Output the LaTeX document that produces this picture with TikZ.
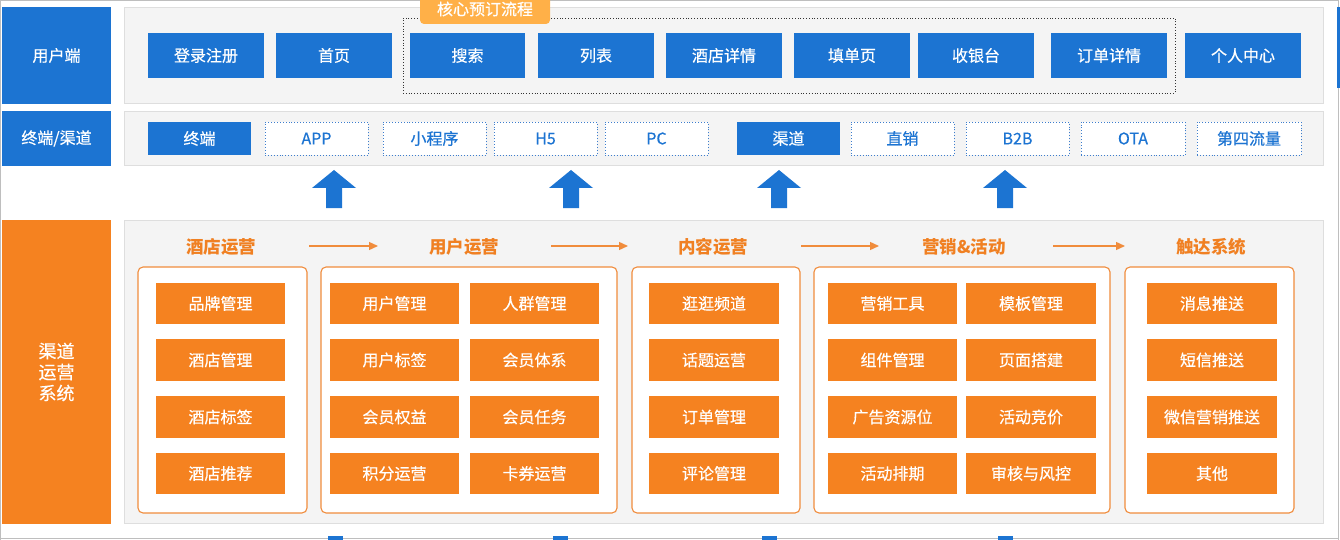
\documentclass[tikz,border=0pt]{standalone}
\usepackage{fontspec}
\setmainfont{Noto Sans CJK SC}
\newfontfamily\medfont{Noto Sans CJK SC}[FakeBold=0.5]
\usetikzlibrary{arrows.meta}
\definecolor{bl}{RGB}{28,116,210}
\definecolor{orn}{RGB}{245,130,32}
\definecolor{ornline}{RGB}{240,140,60}
\definecolor{ornhead}{RGB}{240,128,34}
\definecolor{tagc}{RGB}{255,176,72}
\definecolor{panelc}{RGB}{244,244,244}
\definecolor{panelb}{RGB}{222,222,222}
\definecolor{framec}{RGB}{190,190,190}
\definecolor{dotb}{RGB}{60,125,205}
\newcommand\rbox[7]{\node[#1, minimum width={(#5-#3)*1pt}, minimum height={(#6-#4)*1pt}] (#2) at ({(#3+#5)/2},{(#4+#6)/2}) {#7};}
\tikzset{
  base/.style={rectangle, inner sep=0pt, outer sep=0pt, font=\medfont\fontsize{16}{20}\selectfont},
  bluebtn/.style={base, fill=bl, text=white},
  label/.style={base, fill=bl, text=white, align=center},
  panel/.style={base, fill=panelc, draw=panelb, line width=0.8pt},
  dotbox/.style={base, fill=white, draw=dotb, dotted, line width=0.9pt, text=bl},
  coreframe/.style={base, draw=black!80, dotted, line width=0.8pt},
  item/.style={base, fill=orn, text=white},
  group/.style={base, fill=white, draw=ornline, line width=1.1pt, rounded corners=5pt},
  head/.style={inner sep=0pt, font=\fontsize{17.5}{20}\selectfont\bfseries, text=ornhead},
  flow/.style={draw=ornline, line width=1.3pt, -{Triangle[length=9pt,width=8pt]}},
}
\begin{document}
\begin{tikzpicture}[x=1pt,y=-1pt]
\useasboundingbox (0,0) rectangle (1340,540);
\fill[white] (0,0) rectangle (1340,540);
% frame
\draw[framec, line width=0.8pt] (0.5,540) -- (0.5,0.5) -- (1338,0.5) -- (1338,540);
\draw[framec, line width=0.8pt] (0,538.5) -- (1338,538.5);
\fill[bl] (1337,7) rectangle (1340,88);

% ===== row 1 =====
\rbox{label}{lUser}{2}{7}{111}{104}{用户端}
\rbox{panel}{pUser}{124}{7}{1323}{103}{}
\rbox{coreframe}{core}{403}{18}{1175}{93}{}
\rbox{bluebtn}{login}{148}{33}{264}{78}{登录注册}
\rbox{bluebtn}{home}{276}{33}{392}{78}{首页}
\rbox{bluebtn}{search}{410}{33}{525}{78}{搜索}
\rbox{bluebtn}{list}{538}{33}{654}{78}{列表}
\rbox{bluebtn}{hotel}{666}{33}{782}{78}{酒店详情}
\rbox{bluebtn}{fill}{794}{33}{910}{78}{填单页}
\rbox{bluebtn}{pay}{918}{33}{1034}{78}{收银台}
\rbox{bluebtn}{order}{1051}{33}{1167}{78}{订单详情}
\rbox{bluebtn}{me}{1185}{33}{1301}{78}{个人中心}
\node[base, fill=tagc, text=white, rounded corners=4pt, minimum width=130pt, minimum height=30pt] (tag) at (485,9) {核心预订流程};

% ===== row 2 =====
\rbox{label}{lTerm}{2}{111}{111}{166}{终端/渠道}
\rbox{panel}{pTerm}{124}{111}{1323}{165}{}
\rbox{bluebtn}{term}{148}{122}{251}{155}{终端}
\rbox{dotbox}{app}{265}{122}{368}{155}{APP}
\rbox{dotbox}{mini}{383}{122}{486}{155}{小程序}
\rbox{dotbox}{hfive}{494}{122}{597}{155}{H5}
\rbox{dotbox}{pc}{605}{122}{708}{155}{PC}
\rbox{bluebtn}{chan}{737}{122}{840}{155}{渠道}
\rbox{dotbox}{direct}{851}{122}{954}{155}{直销}
\rbox{dotbox}{btob}{966}{122}{1069}{155}{B2B}
\rbox{dotbox}{ota}{1081}{122}{1185}{155}{OTA}
\rbox{dotbox}{fourth}{1197}{122}{1301}{155}{第四流量}

% up arrows
\foreach \cx in {334,571,779,1005}{
  \fill[bl] (\cx-22,188) -- (\cx,170) -- (\cx+22,188) -- (\cx+8,188) -- (\cx+8,208) -- (\cx-8,208) -- (\cx-8,188) -- cycle;
}
% cut-off arrows at bottom
\foreach \cx in {335.5,560.5,769.5,1005.5}{
  \fill[bl] (\cx-7.5,536) rectangle (\cx+7.5,540);
}

% ===== row 3 =====
\rbox{base, fill=orn, text=white, align=center, font=\medfont\fontsize{18}{21}\selectfont}{lOps}{2}{220}{111}{524}{渠道\\运营\\系统}
\rbox{panel}{pOps}{124}{220}{1323}{523}{}

\node[head] (h1) at (221,247) {酒店运营};
\node[head] (h2) at (464,247) {用户运营};
\node[head] (h3) at (713,247) {内容运营};
\node[head] (h4) at (964,247) {营销\&活动};
\node[head] (h5) at (1211,247) {触达系统};
\coordinate (a1s) at (309,246); \coordinate (a1e) at (378,246);
\coordinate (a2s) at (551,246); \coordinate (a2e) at (628,246);
\coordinate (a3s) at (801,246); \coordinate (a3e) at (879,246);
\coordinate (a4s) at (1053,246); \coordinate (a4e) at (1125,246);
\draw[flow] (a1s) -- (a1e);
\draw[flow] (a2s) -- (a2e);
\draw[flow] (a3s) -- (a3e);
\draw[flow] (a4s) -- (a4e);

\rbox{group}{g1}{138}{267}{307}{513}{}
\rbox{group}{g2}{321}{267}{617}{513}{}
\rbox{group}{g3}{632}{267}{800}{513}{}
\rbox{group}{g4}{814}{267}{1110}{513}{}
\rbox{group}{g5}{1125}{267}{1294}{513}{}

% group 1
\rbox{item}{i11}{156}{283}{285}{324}{品牌管理}
\rbox{item}{i12}{156}{339}{285}{381}{酒店管理}
\rbox{item}{i13}{156}{396}{285}{438}{酒店标签}
\rbox{item}{i14}{156}{453}{285}{494}{酒店推荐}
% group 2
\rbox{item}{i21}{330}{283}{459}{324}{用户管理}
\rbox{item}{i22}{330}{339}{459}{381}{用户标签}
\rbox{item}{i23}{330}{396}{459}{438}{会员权益}
\rbox{item}{i24}{330}{453}{459}{494}{积分运营}
\rbox{item}{i25}{470}{283}{599}{324}{人群管理}
\rbox{item}{i26}{470}{339}{599}{381}{会员体系}
\rbox{item}{i27}{470}{396}{599}{438}{会员任务}
\rbox{item}{i28}{470}{453}{599}{494}{卡券运营}
% group 3
\rbox{item}{i31}{649}{283}{779}{324}{逛逛频道}
\rbox{item}{i32}{649}{339}{779}{381}{话题运营}
\rbox{item}{i33}{649}{396}{779}{438}{订单管理}
\rbox{item}{i34}{649}{453}{779}{494}{评论管理}
% group 4
\rbox{item}{i41}{828}{283}{957}{324}{营销工具}
\rbox{item}{i42}{828}{339}{957}{381}{组件管理}
\rbox{item}{i43}{828}{396}{957}{438}{广告资源位}
\rbox{item}{i44}{828}{453}{957}{494}{活动排期}
\rbox{item}{i45}{966}{283}{1096}{324}{模板管理}
\rbox{item}{i46}{966}{339}{1096}{381}{页面搭建}
\rbox{item}{i47}{966}{396}{1096}{438}{活动竞价}
\rbox{item}{i48}{966}{453}{1096}{494}{审核与风控}
% group 5
\rbox{item}{i51}{1147}{283}{1277}{324}{消息推送}
\rbox{item}{i52}{1147}{339}{1277}{381}{短信推送}
\rbox{item}{i53}{1147}{396}{1277}{438}{微信营销推送}
\rbox{item}{i54}{1147}{453}{1277}{494}{其他}
\end{tikzpicture}
\end{document}
